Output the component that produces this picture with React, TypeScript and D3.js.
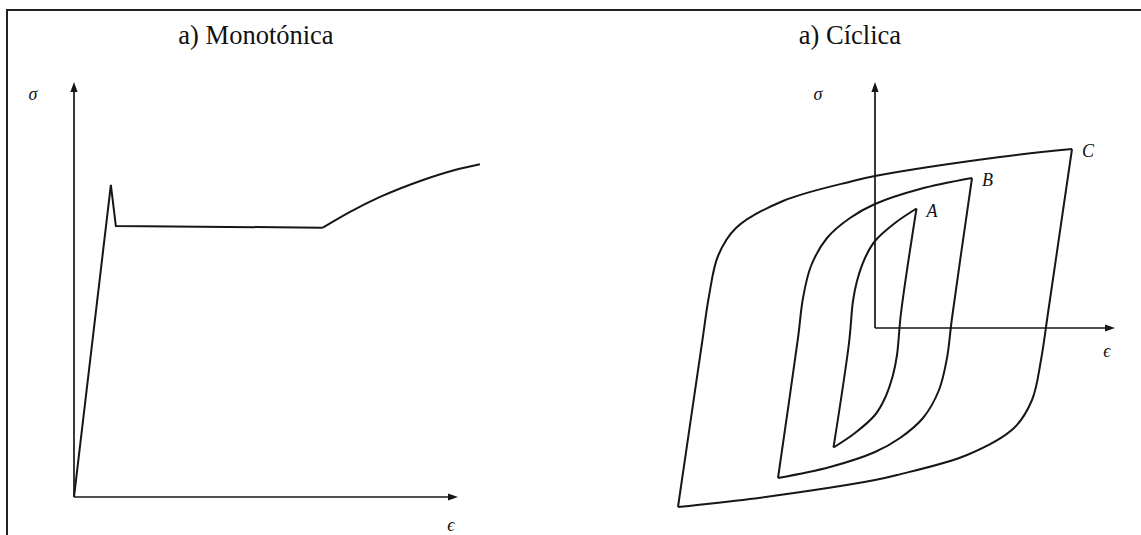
import React from "react";
import * as d3 from "d3";

const W = 1141;
const H = 535;

const titles = ["a) Monotónica", "a) Cíclica"];
const axisLabels = ["σ", "ϵ"];

// Monotonic test (relative strain ε, relative stress σ)
// elastic rise, upper yield spike and yield plateau
const monoYield: [number, number][] = [
  [0, 0],
  [9.6, 75.2],
  [10.9, 65.3],
  [64.8, 64.9],
];
// strain hardening
const monoHardening: [number, number][] = [
  [64.8, 64.9],
  [71.9, 68.7],
  [79.7, 72.3],
  [90.9, 76.4],
  [99.2, 78.8],
  [105.7, 80.2],
];

// Cyclic test: hysteresis loops, loading branch (lower tip -> upper tip) and unloading branch
const loopALoad: [number, number][] = [
  [-4.15, -11.95], [-2.6, -1.5], [-2.2, 2.7], [-1.8, 4.7], [-1.0, 7.0], [0, 8.7], [2, 10.5], [4.15, 11.95],
];
const loopAUnload: [number, number][] = [
  [4.15, 11.95], [2.6, 1.5], [2.2, -2.7], [1.8, -4.7], [1.0, -7.0], [0, -8.7], [-2, -10.5], [-4.15, -11.95],
];
const loopBLoad: [number, number][] = [
  [-9.7, -15], [-7.7, -1], [-7.2, 3], [-6.4, 6.2], [-4.8, 9], [-2.5, 11], [0, 12.4], [4.5, 13.9], [9.7, 15],
];
const loopBUnload: [number, number][] = [
  [9.7, 15], [7.7, 1], [7.2, -3], [6.4, -6.2], [4.8, -9], [2.5, -11], [0, -12.4], [-4.5, -13.9], [-9.7, -15],
];
const loopCLoad: [number, number][] = [
  [-19.7, -17.9], [-17.3, -1.5], [-16.6, 3.2], [-15.7, 7.2], [-13.9, 10.0], [-9.2, 12.7], [-2.2, 14.7], [0, 15.2], [12.5, 17.1], [19.7, 17.9],
];
const loopCUnload: [number, number][] = [
  [19.7, 17.9], [17.3, 1.5], [16.6, -3.2], [15.7, -7.2], [13.9, -10.0], [9.2, -12.7], [2.2, -14.7], [0, -15.2], [-12.5, -17.1], [-19.7, -17.9],
];
const loopNames = ["A", "B", "C"];

const INK = "#161616";
const SERIF = "Liberation Serif, DejaVu Serif, serif";

// Left panel scales
const xMono = d3.scaleLinear().domain([0, 100]).range([74, 458]);
const yMono = d3.scaleLinear().domain([0, 100]).range([497, 82]);

// Right panel scales (origin at the centre of the loops)
const xCyc = d3.scaleLinear().domain([-20, 24]).range([675, 1115]);
const yCyc = d3.scaleLinear().domain([-18, 24.6]).range([508, 82]);

function Arrow({ x1, y1, x2, y2 }: { x1: number; y1: number; x2: number; y2: number }) {
  const ang = Math.atan2(y2 - y1, x2 - x1);
  const len = 10;
  const half = 3.6;
  const bx = x2 - len * Math.cos(ang);
  const by = y2 - len * Math.sin(ang);
  const px = -Math.sin(ang) * half;
  const py = Math.cos(ang) * half;
  return (
    <g>
      <line x1={x1} y1={y1} x2={bx} y2={by} stroke={INK} strokeWidth={1.7} />
      <path d={`M${x2},${y2}L${bx + px},${by + py}L${bx - px},${by - py}Z`} fill={INK} />
    </g>
  );
}

export default function App() {
  const straight = d3
    .line<[number, number]>()
    .x((d) => xMono(d[0]))
    .y((d) => yMono(d[1]));
  const smoothMono = d3
    .line<[number, number]>()
    .x((d) => xMono(d[0]))
    .y((d) => yMono(d[1]))
    .curve(d3.curveMonotoneX);
  const branch = d3
    .line<[number, number]>()
    .x((d) => xCyc(d[0]))
    .y((d) => yCyc(d[1]))
    .curve(d3.curveCatmullRom.alpha(0.5));

  const loops = [
    [loopALoad, loopAUnload],
    [loopBLoad, loopBUnload],
    [loopCLoad, loopCUnload],
  ];

  const curveStyle = { fill: "none", stroke: INK, strokeWidth: 2, strokeLinejoin: "miter" as const };

  return (
    <svg
      width={W}
      height={H}
      style={{ position: "absolute", left: 0, top: 0, background: "#fff" }}
    >
      <rect x={0} y={0} width={W} height={H} fill="#fff" />
      {/* frame */}
      <rect x={7} y={10} width={W + 20} height={H + 40} fill="none" stroke="#222" strokeWidth={2} />

      {/* titles */}
      <text x={256} y={44} textAnchor="middle" fontFamily={SERIF} fontSize={26.5} fill="#111">
        {titles[0]}
      </text>
      <text x={850} y={44} textAnchor="middle" fontFamily={SERIF} fontSize={26.5} fill="#111">
        {titles[1]}
      </text>

      {/* monotonic panel */}
      <Arrow x1={xMono(0)} y1={yMono(0)} x2={xMono(0)} y2={yMono(100)} />
      <Arrow x1={xMono(0)} y1={yMono(0)} x2={xMono(100)} y2={yMono(0)} />
      <text x={33} y={100} textAnchor="middle" fontFamily={SERIF} fontStyle="italic" fontSize={18} fill="#111">
        {axisLabels[0]}
      </text>
      <text x={451} y={531} textAnchor="middle" fontFamily={SERIF} fontStyle="italic" fontSize={18} fill="#111">
        {axisLabels[1]}
      </text>
      <path d={straight(monoYield) ?? ""} {...curveStyle} />
      <path d={smoothMono(monoHardening) ?? ""} {...curveStyle} />

      {/* cyclic panel */}
      <Arrow x1={xCyc(0)} y1={yCyc(0)} x2={xCyc(0)} y2={yCyc(24.6)} />
      <Arrow x1={xCyc(0)} y1={yCyc(0)} x2={xCyc(24)} y2={yCyc(0)} />
      <text x={818} y={100} textAnchor="middle" fontFamily={SERIF} fontStyle="italic" fontSize={18} fill="#111">
        {axisLabels[0]}
      </text>
      <text x={1107} y={357} textAnchor="middle" fontFamily={SERIF} fontStyle="italic" fontSize={18} fill="#111">
        {axisLabels[1]}
      </text>
      {loops.map(([up, down], i) => {
        const tip = up[up.length - 1];
        return (
          <g key={loopNames[i]}>
            <path d={branch(up) ?? ""} {...curveStyle} />
            <path d={branch(down) ?? ""} {...curveStyle} />
            <text
              x={xCyc(tip[0]) + 10}
              y={yCyc(tip[1]) + 8}
              fontFamily={SERIF}
              fontStyle="italic"
              fontSize={18}
              fill="#111"
            >
              {loopNames[i]}
            </text>
          </g>
        );
      })}
    </svg>
  );
}
